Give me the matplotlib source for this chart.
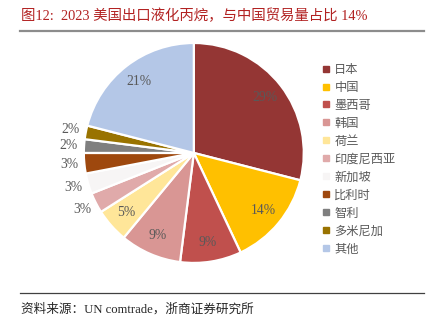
import matplotlib.pyplot as plt
import numpy as np
from matplotlib.lines import Line2D

# 2023 US propane exports by destination (%)
countries = ["日本", "中国", "墨西哥", "韩国", "荷兰", "印度尼西亚",
             "新加坡", "比利时", "智利", "多米尼加", "其他"]
shares = [29, 14, 9, 9, 5, 3, 3, 3, 2, 2, 21]
colors = ["#943634", "#FFC000", "#C0504D", "#D99694", "#FFE699", "#E0AAAA",
          "#F7F5F5", "#9E480E", "#7F7F7F", "#997300", "#B4C7E7"]

cjk = ["Liberation Serif", "Noto Sans CJK SC"]
grey = "#595959"

fig = plt.figure(figsize=(4.39, 3.30), dpi=100)
fig.patch.set_facecolor("white")

ax = fig.add_axes([0.191, 0.203, 0.501, 0.667])
wedges, _ = ax.pie(shares, colors=colors, startangle=90, counterclock=False,
                   radius=1.0,
                   wedgeprops=dict(edgecolor="white", linewidth=1.6))
ax.set_xlim(-1, 1)
ax.set_ylim(-1, 1)
ax.set_aspect("equal")
ax.axis("off")

# percent labels: inside for big slices, outside for thin ones
for w, v in zip(wedges, shares):
    ang = np.radians((w.theta1 + w.theta2) / 2)
    r = 0.82 if v >= 5 else 1.14
    ax.text(r * np.cos(ang), r * np.sin(ang), f"{v}%", ha="center", va="center",
            fontsize=9.8, color=grey, family="Liberation Serif")

handles = [Line2D([], [], marker="s", linestyle="", markersize=4,
                  markerfacecolor=c, markeredgecolor=c) for c in colors]
leg = fig.legend(handles, countries, loc="upper left",
                 bbox_to_anchor=(0.71, 0.84), frameon=False,
                 handlelength=0.5, handletextpad=0.45, labelspacing=0.49,
                 prop=dict(family=cjk, size=8.8))
for t in leg.get_texts():
    t.set_color(grey)

fig.text(0.048, 0.953, "图12:  2023 美国出口液化丙烷，与中国贸易量占比 14%",
         family=cjk, fontsize=10.4, color="#B22222", va="center")
fig.add_artist(Line2D([0.045, 0.965], [0.905, 0.905], color="#8C8C8C",
                      linewidth=1.6, transform=fig.transFigure))
fig.add_artist(Line2D([0.045, 0.965], [0.112, 0.112], color="#404040",
                      linewidth=0.9, transform=fig.transFigure))
fig.text(0.048, 0.063, "资料来源：UN comtrade，浙商证券研究所",
         family=cjk, fontsize=9.1, color="#262626", va="center")

fig.savefig("out.png", dpi=100)
